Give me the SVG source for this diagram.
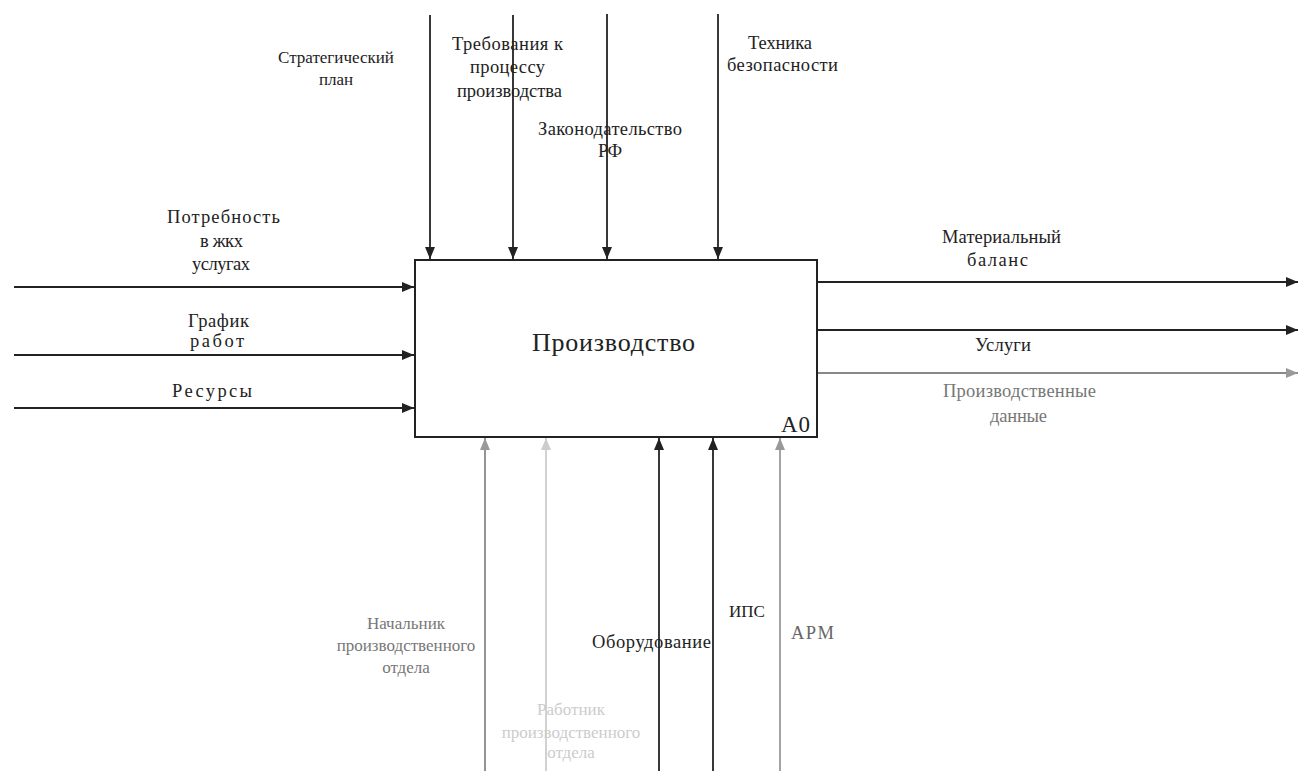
<svg xmlns="http://www.w3.org/2000/svg" width="1301" height="771" viewBox="0 0 1301 771">
<style>
text{font-family:"Liberation Serif","DejaVu Serif",serif;font-size:18.5px;fill:#222}
.c{text-anchor:middle;font-size:17px}
.box{fill:#fff;stroke:#222;stroke-width:2}
.ln{fill:none;stroke:#222;stroke-width:1.8}
.g1{stroke:#888}
.g2{stroke:#ccc}
.g3{stroke:#999}
.tg1{fill:#777}
.tg2{fill:#ccc}
.tg3{fill:#666}
</style>
<defs>
<marker id="ah" markerWidth="12" markerHeight="10" refX="12" refY="5" orient="auto" markerUnits="userSpaceOnUse"><path d="M0,0 L12,5 L0,10 z" fill="#222"/></marker>
<marker id="ah1" markerWidth="12" markerHeight="10" refX="12" refY="5" orient="auto" markerUnits="userSpaceOnUse"><path d="M0,0 L12,5 L0,10 z" fill="#999"/></marker>
<marker id="ah2" markerWidth="12" markerHeight="10" refX="12" refY="5" orient="auto" markerUnits="userSpaceOnUse"><path d="M0,0 L12,5 L0,10 z" fill="#ccc"/></marker>
</defs>
<rect width="1301" height="771" fill="#fff"/>
<g id="connectors">
<line class="ln" x1="430" y1="15" x2="430" y2="259" marker-end="url(#ah)"/>
<line class="ln" x1="513" y1="15" x2="513" y2="259" marker-end="url(#ah)"/>
<line class="ln" x1="607" y1="14" x2="607" y2="259" marker-end="url(#ah)"/>
<line class="ln" x1="718" y1="14" x2="718" y2="259" marker-end="url(#ah)"/>
<line class="ln" x1="14" y1="287" x2="414" y2="287" marker-end="url(#ah)"/>
<line class="ln" x1="14" y1="355" x2="414" y2="355" marker-end="url(#ah)"/>
<line class="ln" x1="14" y1="408" x2="414" y2="408" marker-end="url(#ah)"/>
<line class="ln" x1="818" y1="282" x2="1298" y2="282" marker-end="url(#ah)"/>
<line class="ln" x1="818" y1="330" x2="1298" y2="330" marker-end="url(#ah)"/>
<line class="ln g1" x1="818" y1="373" x2="1298" y2="373" marker-end="url(#ah1)"/>
<line class="ln g1" x1="485" y1="771" x2="485" y2="438" marker-end="url(#ah1)"/>
<line class="ln g2" x1="546" y1="771" x2="546" y2="438" marker-end="url(#ah2)"/>
<line class="ln" x1="659" y1="771" x2="659" y2="438" marker-end="url(#ah)"/>
<line class="ln" x1="713" y1="771" x2="713" y2="438" marker-end="url(#ah)"/>
<line class="ln g3" x1="780" y1="771" x2="780" y2="438" marker-end="url(#ah1)"/>
</g>
<g id="node-a0">
<rect class="box" x="415" y="260" width="402" height="177"/>
<text x="532" y="351" textLength="163" style="font-size:26px">Производство</text>
<text x="781" y="432" textLength="29" style="font-size:23px">A0</text>
</g>
<g id="label-strat"><text class="c" x="336" y="63">Стратегический</text><text class="c" x="336" y="85">план</text></g>
<g id="label-treb"><text x="452" y="50" textLength="111">Требования к</text><text x="470" y="73" textLength="75">процессу</text><text x="457" y="97" textLength="105">производства</text></g>
<g id="label-zakon"><text x="538" y="135" textLength="144">Законодательство</text><text x="598" y="157" textLength="24">РФ</text></g>
<g id="label-tb"><text x="748" y="49" textLength="64">Техника</text><text x="727" y="71" textLength="111">безопасности</text></g>
<g id="label-potr"><text x="167" y="223" textLength="113">Потребность</text><text x="200" y="247" textLength="43">в жкх</text><text x="192" y="270" textLength="58">услугах</text></g>
<g id="label-graf"><text x="188" y="327" textLength="61">График</text><text x="190" y="347" textLength="54">работ</text></g>
<g id="label-res"><text x="172" y="397" textLength="80">Ресурсы</text></g>
<g id="label-mat"><text x="942" y="243" textLength="119">Материальный</text><text x="967" y="266" textLength="61">баланс</text></g>
<g id="label-usl"><text x="975" y="351" textLength="56">Услуги</text></g>
<g id="label-pd"><text class="tg1" x="943" y="397" textLength="153">Производственные</text><text class="tg1" x="990" y="422" textLength="57">данные</text></g>
<g id="label-nach"><text class="c tg1" x="406" y="629">Начальник</text><text class="c tg1" x="406" y="651">производственного</text><text class="c tg1" x="406" y="673">отдела</text></g>
<g id="label-rab"><text class="c tg2" x="571" y="715">Работник</text><text class="c tg2" x="571" y="738">производственного</text><text class="c tg2" x="571" y="758">отдела</text></g>
<g id="label-obor"><text x="592" y="648" textLength="119">Оборудование</text></g>
<g id="label-ips"><text class="c" x="747" y="617">ИПС</text></g>
<g id="label-arm"><text class="tg3" x="791" y="639" textLength="43">АРМ</text></g>
</svg>
